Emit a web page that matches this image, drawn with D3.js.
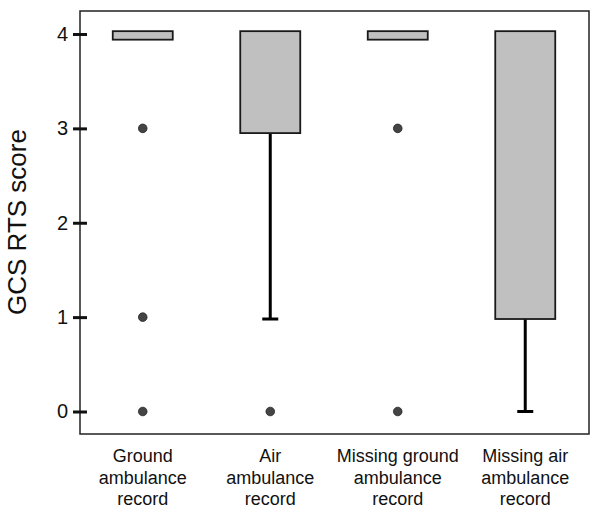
<!DOCTYPE html>
<html>
<head>
<meta charset="utf-8">
<script src="https://d3js.org/d3.v7.min.js"></script>
<style>
  body { margin: 0; background: #fff; }
  svg  { font-family: "Liberation Sans", Arial, sans-serif; }
</style>
</head>
<body>
<div id="chart"></div>
<script>

// Categories, one line of the x label per entry
var categories = [
  ["Ground", "ambulance", "record"],
  ["Air", "ambulance", "record"],
  ["Missing ground", "ambulance", "record"],
  ["Missing air", "ambulance", "record"]
];

// Box edges (lower / upper quartile)
var boxLow   = [3.94, 2.95, 3.94, 0.98];
var boxHigh  = [4.03, 4.03, 4.03, 4.03];

// Lower whisker end (null = no whisker)
var whiskerLow = [null, 0.98, null, 0];

// Outlying points for each category
var outliers = [
  [3, 1, 0],
  [0],
  [3, 0],
  []
];

var yTicks = [0, 1, 2, 3, 4];

var width  = 600,
    height = 510,
    margin = {top: 11, right: 11, bottom: 76, left: 80};

var svg = d3.select("#chart").append("svg")
  .attr("width",  width)
  .attr("height", height);

var x = d3.scaleBand()
  .domain(d3.range(categories.length))
  .range([margin.left - 1, width - margin.right]);

var y = d3.scaleLinear()
  .domain([0, 4])
  .range([411.5, 34]);

// plot frame
svg.append("rect")
  .attr("x",      margin.left)
  .attr("y",      margin.top)
  .attr("width",  width - margin.left - margin.right)
  .attr("height", height - margin.top - margin.bottom)
  .attr("fill",   "none")
  .attr("stroke", "#222")
  .attr("stroke-width", 1.5);

// y axis ticks straddle the frame
var yAxis = d3.axisLeft(y)
  .tickValues(yTicks)
  .tickFormat(d3.format("d"))
  .tickSizeInner(7)
  .tickSizeOuter(0);

var yg = svg.append("g")
  .attr("transform", "translate(" + margin.left + ",0)")
  .call(yAxis);

yg.select(".domain").remove();
yg.selectAll(".tick line")
  .attr("x1", -7)
  .attr("x2", 7)
  .attr("stroke", "#111")
  .attr("stroke-width", 3);
yg.selectAll(".tick text")
  .attr("x", -12)
  .style("font-size", "20px")
  .style("font-family", "'Liberation Sans', Arial, sans-serif")
  .attr("fill", "#111");

// y axis title
svg.append("text")
  .attr("transform", "translate(26," + 222 + ") rotate(-90)")
  .attr("text-anchor", "middle")
  .attr("font-size", 26)
  .attr("fill", "#111")
  .text("GCS RTS score");

var boxW = 60;

// whiskers
categories.forEach(function(c, i) {
  if (whiskerLow[i] === null) return;
  var cx = x(i) + x.bandwidth() / 2;
  svg.append("line")
    .attr("x1", cx).attr("x2", cx)
    .attr("y1", y(boxLow[i])).attr("y2", y(whiskerLow[i]))
    .attr("stroke", "#000")
    .attr("stroke-width", 3);
  svg.append("line")
    .attr("x1", cx - 8).attr("x2", cx + 8)
    .attr("y1", y(whiskerLow[i])).attr("y2", y(whiskerLow[i]))
    .attr("stroke", "#000")
    .attr("stroke-width", 3);
});

// boxes
svg.selectAll("rect.box")
  .data(categories)
  .enter()
  .append("rect")
  .attr("class",  "box")
  .attr("x",      function(d, i) { return x(i) + x.bandwidth() / 2 - boxW / 2; })
  .attr("y",      function(d, i) { return y(boxHigh[i]); })
  .attr("width",  boxW)
  .attr("height", function(d, i) { return y(boxLow[i]) - y(boxHigh[i]); })
  .attr("fill",   "#c0c0c0")
  .attr("stroke", "#1a1a1a")
  .attr("stroke-width", 1.8);

// outliers
categories.forEach(function(c, i) {
  var cx = x(i) + x.bandwidth() / 2;
  outliers[i].forEach(function(v) {
    svg.append("circle")
      .attr("cx", cx)
      .attr("cy", y(v))
      .attr("r",  4.3)
      .attr("fill", "#444")
      .attr("stroke", "#222")
      .attr("stroke-width", 0.8);
  });
});

// category labels
categories.forEach(function(lines, i) {
  var t = svg.append("text")
    .attr("text-anchor", "middle")
    .attr("font-size", 18)
    .attr("fill", "#111");
  lines.forEach(function(line, j) {
    t.append("tspan")
      .attr("x", x(i) + x.bandwidth() / 2)
      .attr("y", 462 + j * 21.5)
      .text(line);
  });
});

</script>
</body>
</html>
